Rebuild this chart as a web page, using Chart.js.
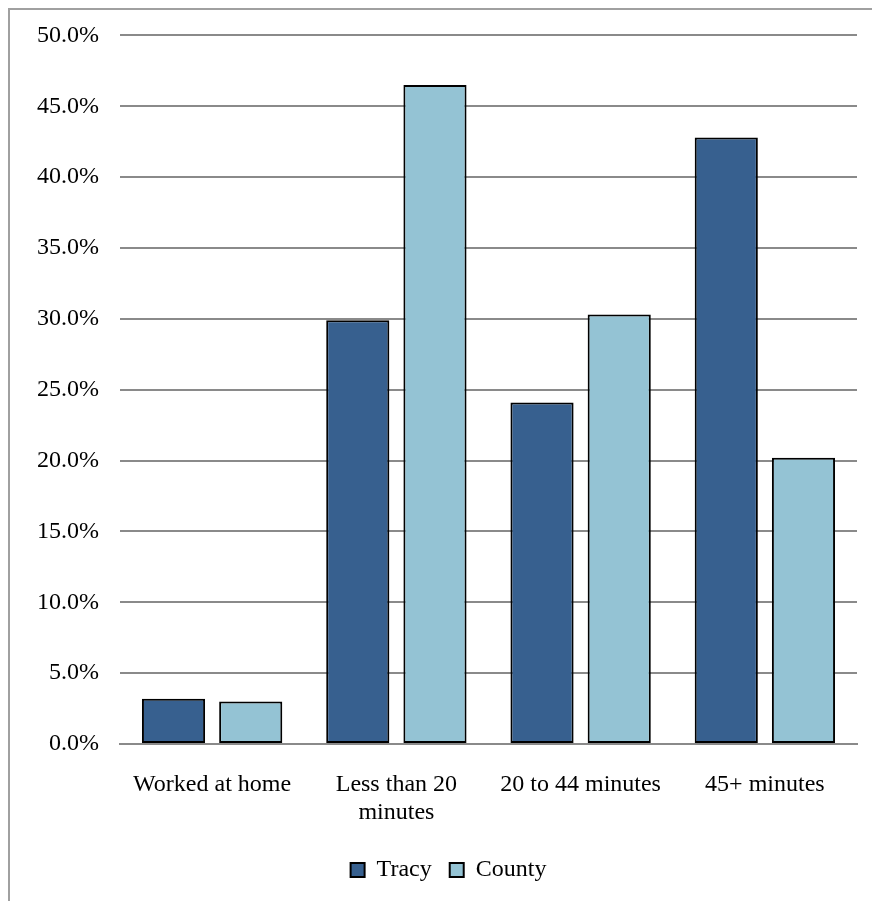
<!DOCTYPE html>
<html>
<head>
<meta charset="utf-8">
<script src="https://cdn.jsdelivr.net/npm/chart.js@4"></script>
<style>
  html, body { margin: 0; padding: 0; background: #fff; overflow: hidden; }
  #wrap { position: relative; width: 872px; height: 901px; }
  #frame {
    position: absolute; left: 8px; top: 8px; width: 1000px; height: 1000px;
    border-left: 2px solid #a0a0a0; border-top: 2px solid #a0a0a0;
    pointer-events: none;
  }
  canvas { position: absolute; left: 0; top: 0; }
</style>
</head>
<body>
<div id="wrap">
  <canvas id="commute" width="872" height="901"></canvas>
  <div id="frame"></div>
</div>
<script>
const categories = [
  "Worked at home",
  ["Less than 20", "minutes"],
  "20 to 44 minutes",
  "45+ minutes",
];
const tracy = [3.2, 29.9, 24.1, 42.8];
const county = [3.0, 46.5, 30.3, 20.2];
const yTicks = [0, 5, 10, 15, 20, 25, 30, 35, 40, 45, 50];

const serif = "'Liberation Serif', 'Times New Roman', serif";

// nudge the centred legend a little to the right of the canvas centre
const legendShift = {
  id: "legendShift",
  afterLayout(chart) {
    chart.legend.left += 10;
    chart.legend.right += 10;
  },
};

new Chart(document.getElementById("commute").getContext("2d"), {
  type: "bar",
  data: {
    labels: categories,
    datasets: [
      {
        label: "Tracy",
        data: tracy,
        backgroundColor: "#37608f",
        borderColor: "#000",
        borderWidth: 2,
        borderSkipped: false,
      },
      {
        label: "County",
        data: county,
        backgroundColor: "#94c3d4",
        borderColor: "#000",
        borderWidth: 2,
        borderSkipped: false,
      },
    ],
  },
  plugins: [legendShift],
  options: {
    responsive: false,
    animation: false,
    devicePixelRatio: 1,
    categoryPercentage: 0.838,
    barPercentage: 0.818,
    layout: { padding: { left: 20, top: 35, right: 15, bottom: 9 } },
    scales: {
      x: {
        afterFit: (scale) => {
          scale.height = 96;
        },
        grid: { display: false },
        border: { display: true, color: "#8a8a8a", width: 2 },
        ticks: {
          color: "#000",
          padding: 18,
          maxRotation: 0,
          autoSkip: false,
          font: { family: serif, size: 24, lineHeight: 1.2 },
        },
      },
      y: {
        min: 0,
        max: 50,
        afterBuildTicks: (scale) => {
          scale.ticks = yTicks.map((v) => ({ value: v }));
        },
        afterFit: (scale) => {
          scale.width = 100;
        },
        grid: { color: "#8a8a8a", lineWidth: 2, drawTicks: false },
        border: { display: false },
        ticks: {
          color: "#000",
          padding: 21,
          font: { family: serif, size: 24 },
          callback: (v) => v.toFixed(1) + "%",
        },
      },
    },
    plugins: {
      tooltip: { enabled: false },
      legend: {
        position: "bottom",
        labels: {
          color: "#000",
          boxWidth: 14,
          boxHeight: 14,
          padding: 18,
          font: { family: serif, size: 24 },
        },
      },
    },
  },
});
</script>
</body>
</html>
